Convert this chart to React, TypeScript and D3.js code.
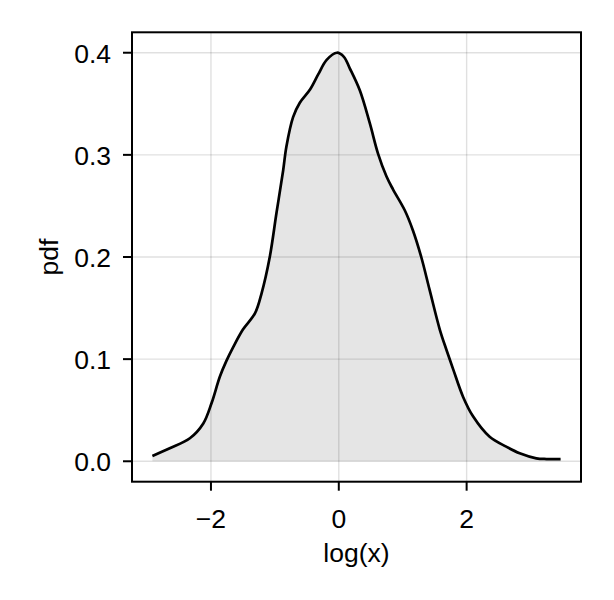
import React from "react";
import * as d3 from "d3";

const xs = [-2.916, -2.645, -2.33, -2.12, -1.99, -1.86, -1.76, -1.65, -1.5, -1.31, -1.21, -1.08, -0.975, -0.87, -0.82, -0.715, -0.61, -0.45, -0.32, -0.19, -0.03, 0.08, 0.17, 0.33, 0.485, 0.615, 0.745, 0.85, 1.03, 1.16, 1.29, 1.42, 1.58, 1.685, 1.79, 1.945, 2.1, 2.36, 2.62, 2.83, 3.09, 3.25, 3.47];
const ys = [0.0052, 0.0127, 0.0225, 0.037, 0.057, 0.083, 0.098, 0.112, 0.129, 0.145, 0.164, 0.2, 0.243, 0.285, 0.308, 0.337, 0.351, 0.364, 0.379, 0.393, 0.4, 0.396, 0.385, 0.363, 0.331, 0.301, 0.279, 0.266, 0.246, 0.226, 0.2, 0.168, 0.129, 0.109, 0.09, 0.063, 0.044, 0.024, 0.0143, 0.0078, 0.0029, 0.0022, 0.0022];
const xTicks = [-2, 0, 2];
const yTicks = [0.0, 0.1, 0.2, 0.3, 0.4];
const xLabel = "log(x)";
const yLabel = "pdf";

const W = 614, H = 600;
const L = 132, R = 581, T = 32.3, B = 481.7;
const FONT = "'Liberation Sans', Arial, sans-serif";
const FS = 26.5;

export default function App() {
  const [x0, x1] = d3.extent(xs) as [number, number];
  const pad = (x1 - x0) * 0.05;
  const x = d3.scaleLinear().domain([x0 - pad, x1 + pad]).range([L, R]);
  const yMax = d3.max(ys) as number;
  const y = d3.scaleLinear().domain([-0.05 * yMax, yMax * 1.05]).range([B, T]);
  const pts = xs.map((v, i) => [v, ys[i]] as [number, number]);
  const line = d3.line<[number, number]>().x(d => x(d[0])).y(d => y(d[1])).curve(d3.curveCatmullRom.alpha(0.5));
  const area = d3.area<[number, number]>().x(d => x(d[0])).y0(() => y(0)).y1(d => y(d[1])).curve(d3.curveCatmullRom.alpha(0.5));
  const fmtY = (v: number) => v.toFixed(1);
  const fmtX = (v: number) => (v < 0 ? "\u2212" + Math.abs(v) : String(v));
  return (
    <svg width={W} height={H} style={{ position: "absolute", left: 0, top: 0, background: "#fff" }}>
      <rect x={0} y={0} width={W} height={H} fill="#fff" />
      <g>
        {xTicks.map(t => (
          <line key={"gx" + t} x1={x(t)} x2={x(t)} y1={T} y2={B} stroke="rgba(0,0,0,0.12)" strokeWidth={1.4} />
        ))}
        {yTicks.map(t => (
          <line key={"gy" + t} x1={L} x2={R} y1={y(t)} y2={y(t)} stroke="rgba(0,0,0,0.12)" strokeWidth={1.4} />
        ))}
      </g>
      <path d={area(pts) || ""} fill="rgba(0,0,0,0.1)" />
      <path d={line(pts) || ""} fill="none" stroke="#000" strokeWidth={2.7} strokeLinejoin="round" />
      <rect x={L} y={T} width={R - L} height={B - T} fill="none" stroke="#000" strokeWidth={2} />
      {xTicks.map(t => (
        <g key={"tx" + t}>
          <line x1={x(t)} x2={x(t)} y1={B} y2={B + 9} stroke="#000" strokeWidth={2} />
          <text x={x(t)} y={528} textAnchor="middle" fontFamily={FONT} fontSize={FS}>{fmtX(t)}</text>
        </g>
      ))}
      {yTicks.map(t => (
        <g key={"ty" + t}>
          <line x1={L} x2={L - 9} y1={y(t)} y2={y(t)} stroke="#000" strokeWidth={2} />
          <text x={111} y={y(t) + 9.8} textAnchor="end" fontFamily={FONT} fontSize={FS}>{fmtY(t)}</text>
        </g>
      ))}
      <text x={(L + R) / 2} y={562} textAnchor="middle" fontFamily={FONT} fontSize={FS}>{xLabel}</text>
      <text transform={`translate(58,${(T + B) / 2}) rotate(-90)`} textAnchor="middle" fontFamily={FONT} fontSize={FS}>{yLabel}</text>
    </svg>
  );
}
